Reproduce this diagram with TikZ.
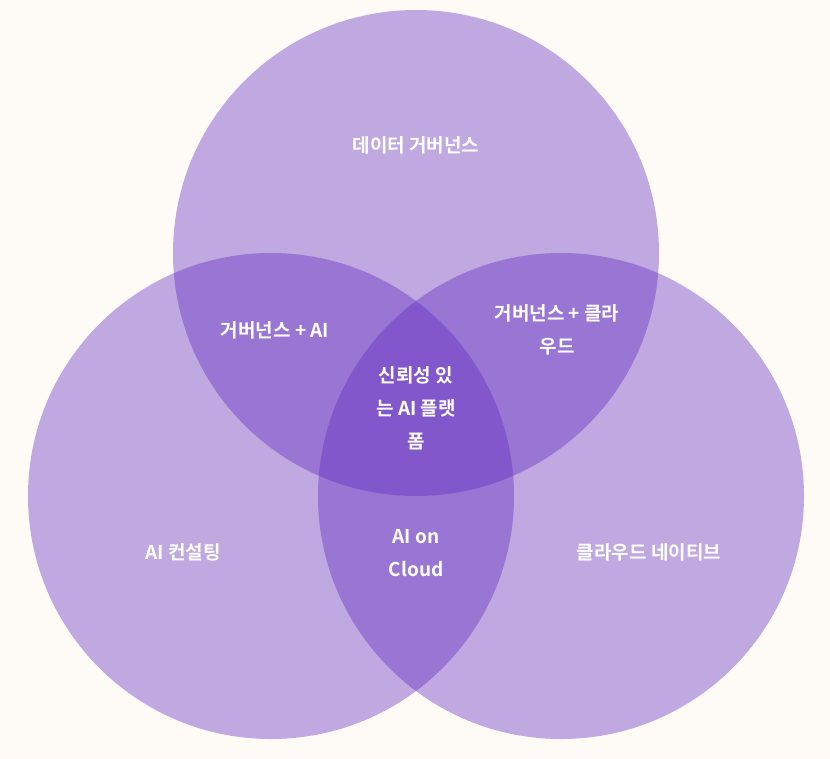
\documentclass[tikz,border=0pt]{standalone}
\usepackage{fontspec}
\setmainfont{Noto Sans CJK KR}[BoldFont={* Bold}]
\definecolor{bgc}{RGB}{254,250,246}
\definecolor{vc}{RGB}{95,40,192}
\begin{document}
\begin{tikzpicture}[x=1pt,y=-1pt,
  circ/.style={fill=vc,fill opacity=0.39,draw=none},
  lbl/.style={text=white,font=\bfseries\fontsize{19}{33}\selectfont,align=center}]
\fill[bgc] (0,0) rectangle (830,758);
\useasboundingbox (0,0) rectangle (830,758);
\path[circ] (416,253) circle (243);
\path[circ] (271,496) circle (243);
\path[circ] (561,496) circle (243);
\node[lbl] (t) at (416,145) {데이터 거버넌스};
\node[lbl] (ga) at (275,330) {거버넌스 + AI};
\node[lbl] (gc) at (557,330) {거버넌스 + 클라\\우드};
\node[lbl] (c) at (416,408) {신뢰성 있\\는 AI 플랫\\폼};
\node[lbl] (l) at (183,552) {AI 컨설팅};
\node[lbl] (ac) at (416,553) {AI on\\Cloud};
\node[lbl] (r) at (649,552) {클라우드 네이티브};
\end{tikzpicture}
\end{document}
